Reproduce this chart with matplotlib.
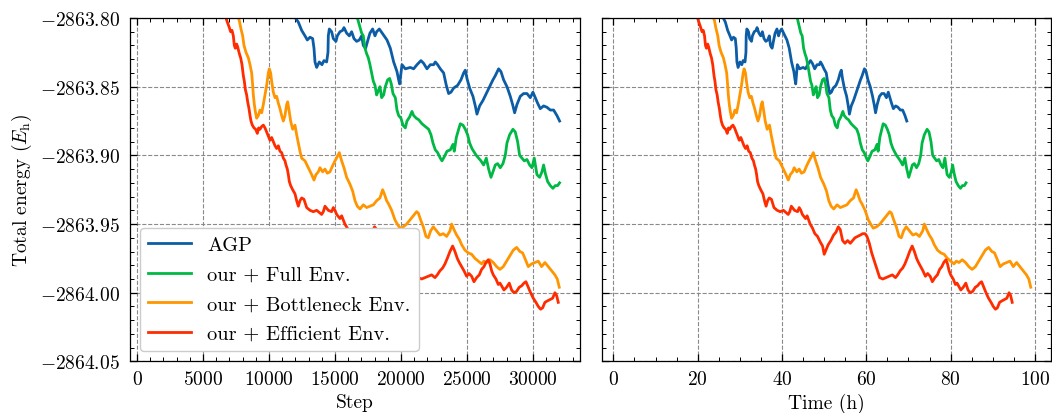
import matplotlib
matplotlib.use("Agg")
import matplotlib.pyplot as plt
from matplotlib.ticker import MultipleLocator, FuncFormatter

# optimisation traces: logged step and total energy (E_h)
agp_step = [11500, 11919, 12222, 12475, 12727, 12904, 13106, 13308, 13409, 13485,
            13611, 13813, 14015, 14166, 14368, 14469, 14495, 14570, 14747, 14873,
            15075, 15176, 15378, 15580, 15681, 15883, 16085, 16262, 16439, 16641,
            16843, 17020, 17146, 17323, 17525, 17651, 17853, 18030, 18156, 18358,
            18650, 18940, 19192, 19445, 19697, 19823, 19899, 20076, 20328, 20707,
            20960, 21212, 21515, 21717, 21970, 22222, 22475, 22601, 22778, 22980,
            23232, 23434, 23611, 23788, 23990, 24293, 24545, 24747, 24873, 25000,
            25202, 25454, 25631, 25757, 25959, 26212, 26464, 26717, 26969, 27146,
            27398, 27575, 27777, 28030, 28282, 28459, 28611, 28787, 29040, 29292,
            29545, 29797, 29999, 30176, 30353, 30555, 30807, 31060, 31312, 31565,
            31817, 32019]
agp_energy = [-2863.793, -2863.799, -2863.803, -2863.809, -2863.813, -2863.816, -2863.814, -2863.815, -2863.822, -2863.832,
              -2863.836, -2863.832, -2863.834, -2863.831, -2863.832, -2863.825, -2863.813, -2863.808, -2863.810, -2863.815,
              -2863.817, -2863.813, -2863.810, -2863.809, -2863.807, -2863.811, -2863.813, -2863.810, -2863.815, -2863.817,
              -2863.816, -2863.813, -2863.820, -2863.822, -2863.815, -2863.811, -2863.808, -2863.813, -2863.810, -2863.808,
              -2863.812, -2863.816, -2863.822, -2863.832, -2863.839, -2863.845, -2863.848, -2863.834, -2863.837, -2863.836,
              -2863.837, -2863.834, -2863.831, -2863.833, -2863.837, -2863.834, -2863.834, -2863.832, -2863.834, -2863.837,
              -2863.840, -2863.849, -2863.855, -2863.854, -2863.851, -2863.849, -2863.845, -2863.840, -2863.838, -2863.844,
              -2863.851, -2863.857, -2863.864, -2863.870, -2863.864, -2863.860, -2863.855, -2863.850, -2863.845, -2863.842,
              -2863.837, -2863.839, -2863.845, -2863.850, -2863.857, -2863.863, -2863.869, -2863.863, -2863.857, -2863.855,
              -2863.855, -2863.858, -2863.854, -2863.858, -2863.862, -2863.866, -2863.864, -2863.865, -2863.867, -2863.867,
              -2863.871, -2863.875]

full_step = [16400, 16641, 16843, 17020, 17146, 17272, 17398, 17525, 17651, 17777,
             17903, 18030, 18156, 18282, 18408, 18535, 18687, 18813, 18990, 19142,
             19268, 19394, 19571, 19697, 19823, 20000, 20152, 20328, 20455, 20657,
             20833, 20960, 21162, 21338, 21591, 21843, 22096, 22273, 22424, 22601,
             22778, 22980, 23106, 23283, 23485, 23737, 23939, 24040, 24192, 24369,
             24495, 24697, 24873, 25050, 25202, 25378, 25505, 25707, 25883, 26060,
             26262, 26464, 26641, 26818, 26969, 27146, 27323, 27525, 27727, 27903,
             28030, 28232, 28484, 28661, 28838, 28990, 29166, 29343, 29545, 29747,
             29923, 30100, 30302, 30504, 30681, 30807, 30933, 31110, 31312, 31514,
             31691, 31868, 32019]
full_energy = [-2863.790, -2863.798, -2863.805, -2863.811, -2863.813, -2863.822, -2863.826, -2863.829, -2863.834, -2863.840,
               -2863.846, -2863.849, -2863.856, -2863.853, -2863.850, -2863.858, -2863.856, -2863.850, -2863.845, -2863.844,
               -2863.848, -2863.855, -2863.858, -2863.867, -2863.871, -2863.873, -2863.878, -2863.880, -2863.875, -2863.872,
               -2863.868, -2863.871, -2863.873, -2863.874, -2863.877, -2863.879, -2863.881, -2863.885, -2863.891, -2863.896,
               -2863.898, -2863.902, -2863.904, -2863.901, -2863.897, -2863.896, -2863.892, -2863.897, -2863.887, -2863.881,
               -2863.877, -2863.878, -2863.881, -2863.885, -2863.891, -2863.895, -2863.897, -2863.900, -2863.902, -2863.904,
               -2863.907, -2863.902, -2863.910, -2863.916, -2863.912, -2863.907, -2863.906, -2863.909, -2863.906, -2863.900,
               -2863.891, -2863.885, -2863.881, -2863.883, -2863.890, -2863.900, -2863.902, -2863.904, -2863.903, -2863.907,
               -2863.909, -2863.902, -2863.914, -2863.916, -2863.912, -2863.907, -2863.913, -2863.919, -2863.922, -2863.924,
               -2863.922, -2863.922, -2863.920]

bottleneck_step = [7400, 7601, 7753, 7854, 8005, 8106, 8258, 8435, 8561, 8687,
                   8763, 8813, 8889, 8965, 9066, 9192, 9318, 9445, 9571, 9697,
                   9823, 9950, 10025, 10126, 10202, 10328, 10455, 10581, 10707, 10833,
                   10960, 11086, 11212, 11338, 11414, 11515, 11641, 11793, 11970, 12096,
                   12222, 12348, 12475, 12727, 12980, 13232, 13409, 13560, 13737, 13863,
                   14065, 14242, 14419, 14621, 14798, 15000, 15176, 15328, 15505, 15681,
                   15883, 16136, 16338, 16515, 16691, 16893, 17146, 17398, 17651, 17903,
                   18156, 18408, 18610, 18737, 18913, 19040, 19293, 19545, 19722, 19924,
                   20176, 20429, 20681, 20934, 21186, 21313, 21489, 21691, 21893, 22070,
                   22247, 22449, 22701, 22954, 23206, 23459, 23711, 23838, 24014, 24216,
                   24418, 24595, 24848, 25100, 25353, 25605, 25858, 26110, 26287, 26489,
                   26741, 26994, 27246, 27499, 27751, 28004, 28256, 28509, 28761, 29014,
                   29216, 29393, 29645, 29898, 30150, 30403, 30655, 30908, 31160, 31413,
                   31665, 31842, 31993]
bottleneck_energy = [-2863.791, -2863.798, -2863.802, -2863.807, -2863.813, -2863.820, -2863.825, -2863.829, -2863.834, -2863.840,
                     -2863.849, -2863.856, -2863.863, -2863.868, -2863.873, -2863.871, -2863.867, -2863.869, -2863.863, -2863.856,
                     -2863.849, -2863.840, -2863.837, -2863.840, -2863.846, -2863.854, -2863.858, -2863.857, -2863.862, -2863.866,
                     -2863.871, -2863.875, -2863.871, -2863.863, -2863.861, -2863.867, -2863.875, -2863.881, -2863.878, -2863.885,
                     -2863.891, -2863.897, -2863.902, -2863.904, -2863.909, -2863.914, -2863.918, -2863.914, -2863.912, -2863.909,
                     -2863.912, -2863.910, -2863.913, -2863.912, -2863.908, -2863.904, -2863.901, -2863.898, -2863.904, -2863.909,
                     -2863.916, -2863.921, -2863.926, -2863.933, -2863.937, -2863.939, -2863.936, -2863.938, -2863.937, -2863.936,
                     -2863.933, -2863.931, -2863.925, -2863.928, -2863.933, -2863.935, -2863.940, -2863.947, -2863.950, -2863.953,
                     -2863.952, -2863.950, -2863.947, -2863.944, -2863.941, -2863.942, -2863.947, -2863.952, -2863.959, -2863.960,
                     -2863.955, -2863.952, -2863.955, -2863.958, -2863.957, -2863.959, -2863.955, -2863.950, -2863.954, -2863.958,
                     -2863.961, -2863.965, -2863.969, -2863.971, -2863.972, -2863.975, -2863.977, -2863.979, -2863.977, -2863.978,
                     -2863.976, -2863.978, -2863.981, -2863.983, -2863.981, -2863.977, -2863.973, -2863.969, -2863.967, -2863.970,
                     -2863.971, -2863.975, -2863.981, -2863.979, -2863.978, -2863.977, -2863.981, -2863.978, -2863.981, -2863.984,
                     -2863.987, -2863.990, -2863.996]

efficient_step = [6400, 6667, 6844, 6995, 7096, 7197, 7298, 7374, 7450, 7551,
                  7626, 7753, 7854, 7955, 8056, 8131, 8207, 8308, 8384, 8485,
                  8561, 8636, 8737, 8864, 8990, 9116, 9217, 9318, 9445, 9571,
                  9697, 9823, 9950, 10076, 10202, 10328, 10455, 10581, 10707, 10833,
                  10960, 11086, 11212, 11288, 11389, 11465, 11540, 11641, 11793, 11970,
                  12096, 12222, 12348, 12475, 12651, 12854, 13106, 13359, 13611, 13864,
                  13990, 14116, 14242, 14495, 14747, 14874, 15000, 15126, 15379, 15505,
                  15631, 15751, 15938, 16126, 16340, 16553, 16742, 16875, 17009, 17196,
                  17409, 17623, 17811, 17998, 18159, 18346, 18532, 18746, 18961, 19148,
                  19334, 19549, 19763, 19950, 20139, 20298, 20484, 20674, 20887, 21100,
                  21313, 21565, 21818, 22070, 22323, 22575, 22752, 22954, 23156, 23333,
                  23509, 23711, 23913, 24090, 24267, 24418, 24595, 24772, 24974, 25151,
                  25353, 25530, 25731, 25933, 26110, 26287, 26438, 26615, 26741, 26868,
                  26994, 27196, 27373, 27499, 27625, 27802, 28004, 28206, 28383, 28559,
                  28761, 28963, 29140, 29317, 29468, 29645, 29822, 30024, 30226, 30403,
                  30579, 30731, 30908, 31085, 31286, 31489, 31665, 31791, 31918]
efficient_energy = [-2863.791, -2863.798, -2863.803, -2863.807, -2863.810, -2863.809, -2863.813, -2863.820, -2863.822, -2863.819,
                    -2863.821, -2863.826, -2863.829, -2863.834, -2863.842, -2863.846, -2863.852, -2863.856, -2863.861, -2863.866,
                    -2863.871, -2863.875, -2863.878, -2863.880, -2863.881, -2863.884, -2863.880, -2863.881, -2863.879, -2863.878,
                    -2863.880, -2863.883, -2863.886, -2863.889, -2863.887, -2863.890, -2863.893, -2863.895, -2863.893, -2863.897,
                    -2863.898, -2863.902, -2863.904, -2863.907, -2863.910, -2863.914, -2863.919, -2863.922, -2863.925, -2863.928,
                    -2863.933, -2863.937, -2863.933, -2863.931, -2863.932, -2863.938, -2863.940, -2863.941, -2863.940, -2863.942,
                    -2863.943, -2863.941, -2863.937, -2863.940, -2863.941, -2863.938, -2863.940, -2863.943, -2863.946, -2863.944,
                    -2863.947, -2863.950, -2863.953, -2863.957, -2863.959, -2863.963, -2863.966, -2863.972, -2863.969, -2863.965,
                    -2863.962, -2863.958, -2863.956, -2863.952, -2863.954, -2863.962, -2863.964, -2863.962, -2863.964, -2863.962,
                    -2863.960, -2863.959, -2863.958, -2863.957, -2863.957, -2863.959, -2863.964, -2863.971, -2863.977, -2863.983,
                    -2863.989, -2863.990, -2863.989, -2863.988, -2863.987, -2863.989, -2863.987, -2863.984, -2863.982, -2863.979,
                    -2863.975, -2863.970, -2863.966, -2863.970, -2863.975, -2863.978, -2863.981, -2863.984, -2863.988, -2863.986,
                    -2863.988, -2863.992, -2863.989, -2863.987, -2863.983, -2863.981, -2863.978, -2863.976, -2863.979, -2863.984,
                    -2863.987, -2863.990, -2863.994, -2863.993, -2863.995, -2863.998, -2863.996, -2863.993, -2863.998, -2864.000,
                    -2863.999, -2863.996, -2863.995, -2863.993, -2863.992, -2863.996, -2864.000, -2864.004, -2864.007, -2864.010,
                    -2864.012, -2864.011, -2864.007, -2864.006, -2864.005, -2864.004, -2864.000, -2864.002, -2864.007]

# wall-clock hours at the last logged step of each run
agp_hours = 69.6
full_hours = 83.65
bottleneck_hours = 99.0
efficient_hours = 94.6

labels = ["AGP", "our + Full Env.", "our + Bottleneck Env.", "our + Efficient Env."]
colors = ["#0C5DA5", "#00B945", "#FF9500", "#FF2C00"]

runs = [
    (agp_step, agp_energy, agp_hours),
    (full_step, full_energy, full_hours),
    (bottleneck_step, bottleneck_energy, bottleneck_hours),
    (efficient_step, efficient_energy, efficient_hours),
]

plt.rcParams.update({
    "font.family": "serif",
    "font.serif": ["cmr10"],
    "mathtext.fontset": "cm",
    "axes.unicode_minus": False,
    "axes.formatter.use_mathtext": True,
    "font.size": 14,
    "axes.linewidth": 0.9,
    "xtick.direction": "in",
    "ytick.direction": "in",
    "xtick.top": True,
    "ytick.right": True,
    "xtick.major.size": 5,
    "ytick.major.size": 5,
    "xtick.minor.size": 2.8,
    "ytick.minor.size": 2.8,
    "xtick.major.width": 0.9,
    "ytick.major.width": 0.9,
    "xtick.minor.width": 0.7,
    "ytick.minor.width": 0.7,
    "xtick.major.pad": 6,
    "ytick.major.pad": 7,
})

fig = plt.figure(figsize=(10.52, 4.14), dpi=100)
ax1 = fig.add_axes([0.1233, 0.1246, 0.4279, 0.8295])
ax2 = fig.add_axes([0.5720, 0.1246, 0.4266, 0.8295], sharey=ax1)

for (step, energy, hours), label, color in zip(runs, labels, colors):
    ax1.plot(step, energy, color=color, lw=2.0, label=label)
    time_h = [s / step[-1] * hours for s in step]
    ax2.plot(time_h, energy, color=color, lw=2.0)

ax1.set_xlim(-553, 33554)
ax2.set_xlim(-2.75, 103.69)
ax1.set_ylim(-2864.05, -2863.80)

ax1.xaxis.set_major_locator(MultipleLocator(5000))
ax1.xaxis.set_minor_locator(MultipleLocator(1000))
ax2.xaxis.set_major_locator(MultipleLocator(20))
ax2.xaxis.set_minor_locator(MultipleLocator(5))
ax1.yaxis.set_major_locator(MultipleLocator(0.05))
ax1.yaxis.set_minor_locator(MultipleLocator(0.01))
ax1.yaxis.set_major_formatter(FuncFormatter(lambda v, p: f"${v:.2f}$"))
ax2.tick_params(labelleft=False)

for ax in (ax1, ax2):
    ax.grid(True, which="major", linestyle="--", color="#8a8a8a", linewidth=0.8)
    ax.tick_params(which="both", top=True, right=True)

ax1.set_xlabel("Step")
ax2.set_xlabel("Time (h)")
ax1.set_ylabel("Total energy ($E_\\mathrm{h}$)")

leg = ax1.legend(loc="lower left", bbox_to_anchor=(0.023, 0.03), borderaxespad=0,
                 framealpha=1, edgecolor="0.8", fancybox=True, fontsize=14.7,
                 handlelength=2.1, handletextpad=0.78, labelspacing=0.55)
leg.get_frame().set_linewidth(1.0)

fig.savefig("out.png", dpi=100)
